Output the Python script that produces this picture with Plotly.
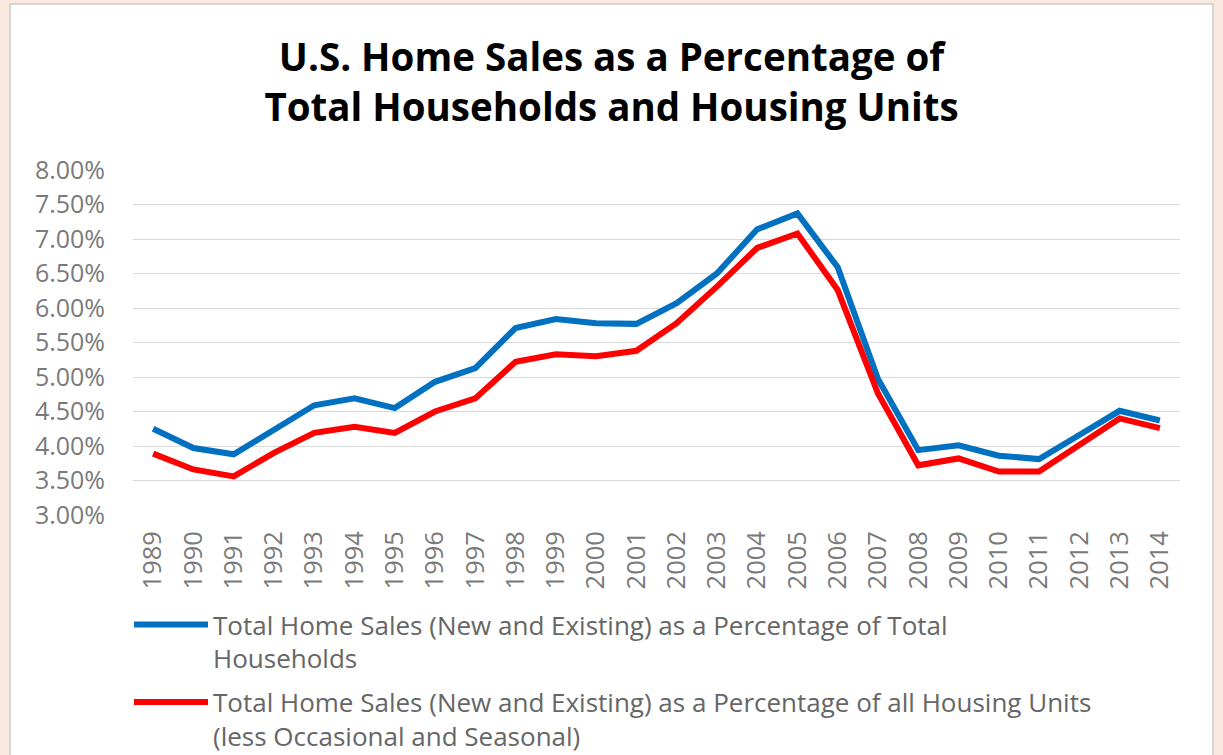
import plotly.graph_objects as go

years = [str(y) for y in range(1989, 2015)]

pct_households = [4.25, 3.97, 3.88, 4.23, 4.59, 4.69, 4.55, 4.93, 5.13, 5.71,
                  5.84, 5.78, 5.77, 6.07, 6.50, 7.14, 7.37, 6.59, 4.97, 3.94,
                  4.01, 3.86, 3.81, 4.16, 4.51, 4.37]

pct_units = [3.89, 3.66, 3.56, 3.90, 4.19, 4.28, 4.19, 4.50, 4.69, 5.22,
             5.33, 5.30, 5.38, 5.78, 6.31, 6.87, 7.08, 6.26, 4.76, 3.72,
             3.82, 3.63, 3.63, 4.01, 4.40, 4.26]

series_names = [
    "Total Home Sales (New and Existing) as a Percentage of Total<br>Households",
    "Total Home Sales (New and Existing) as a Percentage of all Housing Units<br>(less Occasional and Seasonal)",
]
series_colors = ["#0070C0", "#FF0000"]

y_ticks = [3.0, 3.5, 4.0, 4.5, 5.0, 5.5, 6.0, 6.5, 7.0, 7.5, 8.0]

W, H = 1223, 755
L, R, T, B = 133, 43, 170, 240
pw, ph = W - L - R, H - T - B

fig = go.Figure()
for name, vals, col, grp in zip(series_names, [pct_households, pct_units], series_colors, ["a", "b"]):
    fig.add_trace(go.Scatter(
        x=years, y=[v / 100 for v in vals], mode="lines", name=name,
        legendgroup=grp,
        line=dict(color=col, width=6),
    ))

def px_x(p):
    return (p - L) / pw

def px_y(p):
    return (H - B - p) / ph

fig.add_shape(type="rect", xref="paper", yref="paper",
              x0=px_x(10), x1=px_x(1213), y0=px_y(770), y1=px_y(4),
              fillcolor="white", line=dict(color="#d6d6d6", width=2), layer="below")

font_main = "Open Sans"

fig.update_layout(
    width=W, height=H,
    margin=dict(l=L, r=R, t=T, b=B, autoexpand=False),
    paper_bgcolor="#fbe9df",
    plot_bgcolor="white",
    title=dict(
        text="<b>U.S. Home Sales as a Percentage of<br>Total Households and Housing Units</b>",
        x=0.5, xanchor="center", xref="container",
        y=1 - 71 / H, yanchor="top", yref="container",
        font=dict(family=font_main, size=38.5, color="#000000"),
    ),
    xaxis=dict(
        type="category", tickangle=-90, showgrid=False, showline=False,
        ticks="", tickfont=dict(family=font_main, size=25.5, color="#7a7a7a"),
        range=[-0.5, len(years) - 0.5], ticklabelstandoff=10, automargin=False,
    ),
    yaxis=dict(
        range=[0.03, 0.08], tickvals=[v / 100 for v in y_ticks], tickformat=".2%",
        showgrid=True, gridcolor="#d9d9d9", gridwidth=1.3, zeroline=False, showline=False,
        tickfont=dict(family=font_main, size=25, color="#7a7a7a"),
        ticklabelstandoff=27, automargin=False,
    ),
    showlegend=True,
    legend=dict(
        orientation="v", x=px_x(129), xanchor="left", y=px_y(601), yanchor="top",
        font=dict(family=font_main, size=26, color="#666666"),
        bgcolor="rgba(0,0,0,0)", valign="top", itemwidth=74,
        tracegroupgap=7, traceorder="grouped",
    ),
)

fig.write_html("out.html", config={"displayModeBar": False},
               post_script="document.body.style.margin='0';document.body.style.background='#fbe9df';")
